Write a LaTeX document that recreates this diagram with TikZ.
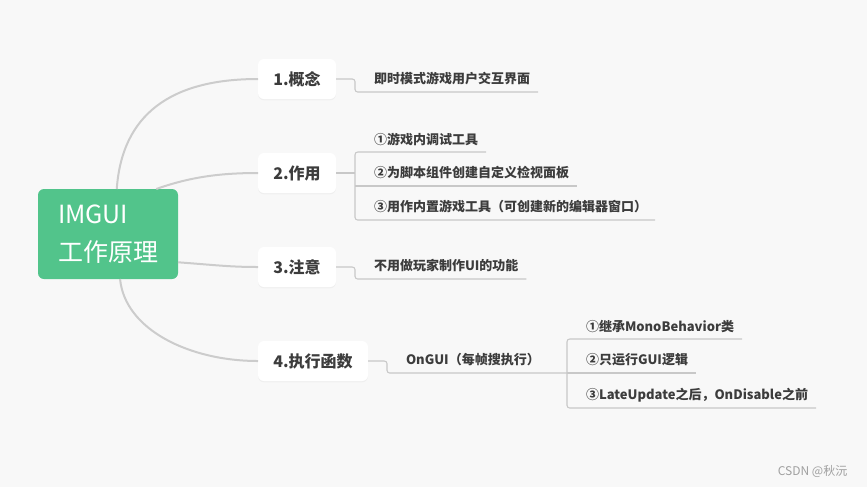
\documentclass[tikz,border=0pt]{standalone}
\usepackage{fontspec}
\setmainfont{Noto Sans CJK SC}
\usetikzlibrary{calc,shadows}
\definecolor{mmbg}{RGB}{248,248,248}
\definecolor{mmgreen}{RGB}{82,196,139}
\definecolor{mmtext}{RGB}{60,60,60}
\definecolor{mmcurve}{RGB}{204,204,204}
\definecolor{mmtwig}{RGB}{200,200,200}
\definecolor{mmmark}{RGB}{160,160,160}

\tikzset{
  root/.style={fill=mmgreen, rounded corners=4.5pt, text=white, align=left,
    text width=75pt, inner xsep=15pt, minimum height=67.5pt, outer sep=0pt,
    font=\fontsize{18.75}{28.5}\selectfont},
  topic/.style={fill=white, rounded corners=4.5pt, text=mmtext, minimum height=30pt,
    minimum width=58.5pt, outer sep=0pt, font=\bfseries\fontsize{12}{14}\selectfont,
    drop shadow={opacity=0.07, shadow xshift=0pt, shadow yshift=-1pt}},
  leaf/.style={anchor=south west, inner xsep=6pt, inner ysep=0pt, minimum height=19.5pt,
    outer sep=0pt, text=mmtext, font=\bfseries\fontsize{9.75}{12}\selectfont},
  curve/.style={draw=mmcurve, line width=1.5pt},
  twig/.style={draw=mmtwig, line width=0.8pt, rounded corners=2pt}
}

\begin{document}
\begin{tikzpicture}[x=0.75pt,y=-0.75pt]
  \fill[mmbg] (0,0) rectangle (867,487);
  \useasboundingbox (0,0) rectangle (867,487);

  % centre and the four topics
  \node[root] (root) at (108,234) {IMGUI\\工作原理};
  \node[topic] (b1) at (297,79) {1.概念};
  \node[topic] (b2) at (297,173) {2.作用};
  \node[topic] (b3) at (297,267) {3.注意};
  \node[topic, minimum width=82.5pt] (b4) at (313,361) {4.执行函数};

  \draw[curve] (root.79) .. controls (122,115) and (170,79) .. (b1.west);
  \draw[curve] (root.43) .. controls (190,177) and (220,173) .. (b2.west);
  \draw[curve] (root.-22) .. controls (215,265) and (230,267) .. (b3.west);
  \draw[curve] (root.-75) .. controls (125,330) and (190,361) .. (b4.west);

  % leaves
  \node[leaf] (l1) at (366,92) {即时模式游戏用户交互界面};
  \node[leaf] (l21) at (366,152) {①游戏内调试工具};
  \node[leaf] (l22) at (366,186) {②为脚本组件创建自定义检视面板};
  \node[leaf] (l23) at (366,220) {③用作内置游戏工具（可创建新的编辑器窗口）};
  \node[leaf] (l3) at (366,279) {不用做玩家制作UI的功能};
  \node[leaf] (l4) at (398,373) {OnGUI（每帧搜执行）};
  \node[leaf] (l41) at (578,339) {①继承MonoBehavior类};
  \node[leaf] (l42) at (578,373) {②只运行GUI逻辑};
  \node[leaf] (l43) at (578,408) {③LateUpdate之后，OnDisable之前};

  \coordinate (j1) at ($(b1.east)+(19,0)$);
  \coordinate (j2) at ($(b2.east)+(19,0)$);
  \coordinate (j3) at ($(b3.east)+(19,0)$);
  \coordinate (j4) at ($(b4.east)+(19,0)$);
  \coordinate (j5) at (567,373);

  \draw[twig] (b1.east) -- (j1) |- (l1.south east);
  \draw[twig] (b2.east) -- (j2);
  \draw[twig] (l21.south east) -| (j2) |- (l23.south east);
  \draw[twig] (j2 |- l22.south) -- (l22.south east);
  \draw[twig] (b3.east) -- (j3) |- (l3.south east);
  \draw[twig] (b4.east) -- (j4) |- (l4.south east) -- (j5);
  \draw[twig] (l41.south east) -| (j5) |- (l43.south east);
  \draw[twig] (j5) -- (l42.south east);

  \node[text=mmmark, font=\fontsize{9}{11}\selectfont, anchor=east] (mark) at (852,471) {CSDN @秋沅};
\end{tikzpicture}
\end{document}
